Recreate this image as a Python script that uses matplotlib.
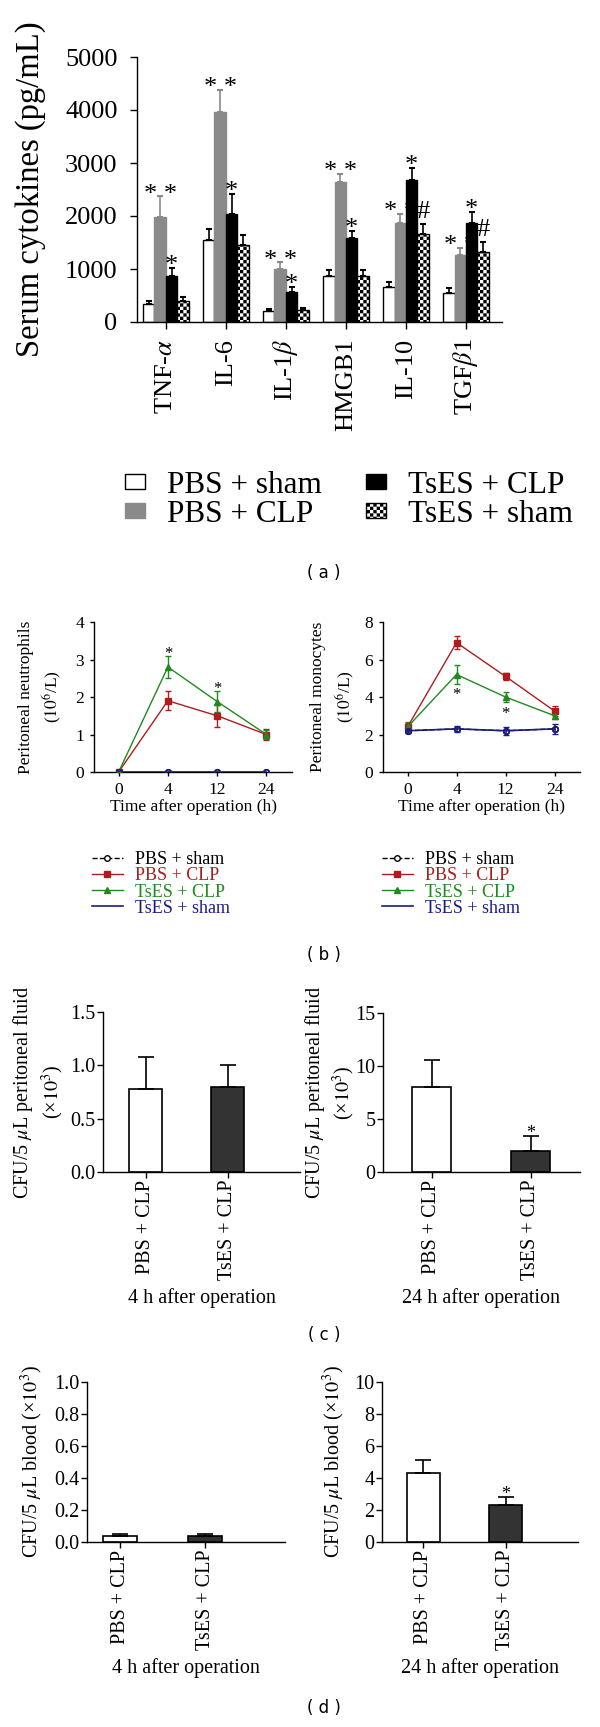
import warnings
import numpy as np
import matplotlib
matplotlib.use("Agg")
import matplotlib.pyplot as plt
import matplotlib.hatch as mhatch
from matplotlib.path import Path

warnings.filterwarnings("ignore")

plt.rcParams['font.family'] = ['Liberation Serif', 'DejaVu Serif']
plt.rcParams['mathtext.fontset'] = 'stix'
plt.rcParams['hatch.linewidth'] = 0.0
plt.rcParams['axes.linewidth'] = 1.0

# ---------------------------------------
# 1. Data
# ---------------------------------------
# (a) serum cytokines, pg/mL
cytokines = ["TNF-$\\alpha$", "IL-6", "IL-1$\\beta$", "HMGB1", "IL-10", "TGF$\\beta$1"]
groups_a = ["PBS + sham", "PBS + CLP", "TsES + CLP", "TsES + sham"]
pbs_sham = [345, 1550, 200, 870, 660, 545]
pbs_sham_err = [60, 200, 50, 113, 100, 88]
pbs_clp = [1980, 3965, 1000, 2650, 1860, 1270]
pbs_clp_err = [390, 420, 125, 145, 176, 120]
tses_clp = [870, 2030, 560, 1580, 2680, 1860]
tses_clp_err = [145, 380, 100, 138, 220, 220]
tses_sham = [390, 1445, 220, 870, 1655, 1330]
tses_sham_err = [75, 195, 40, 113, 188, 176]
sig_pbs_clp = ["* *", "* *", "* *", "* *", "* *", "* *"]
sig_tses_clp = ["*", "*", "*", "*", "*", "*"]
sig_tses_sham = ["", "", "", "", "#", "#"]

# (b) peritoneal cells, 10^6/L
time_labels = ["0", "4", "12", "24"]
groups_b = ["PBS + sham", "PBS + CLP", "TsES + CLP", "TsES + sham"]
neut_pbs_sham = [0, 0, 0, 0]
neut_pbs_clp = [0, 1.9, 1.5, 1.0]
neut_pbs_clp_err = [0, 0.25, 0.3, 0.15]
neut_tses_clp = [0, 2.8, 1.88, 1.0]
neut_tses_clp_err = [0, 0.29, 0.28, 0.12]
neut_tses_sham = [0, 0, 0, 0]
neut_sig = ["", "*", "*", ""]

mono_pbs_sham = [2.2, 2.3, 2.2, 2.3]
mono_pbs_clp = [2.4, 6.9, 5.1, 3.25]
mono_pbs_clp_err = [0.2, 0.36, 0.2, 0.25]
mono_tses_clp = [2.4, 5.2, 4.0, 3.0]
mono_tses_clp_err = [0.25, 0.49, 0.28, 0.15]
mono_tses_sham = [2.2, 2.3, 2.2, 2.3]
mono_tses_sham_err = [0.12, 0.15, 0.2, 0.25]
mono_sig = ["", "*", "*", ""]

# (c), (d) bacterial counts, x10^3
cfu_groups = ["PBS + CLP", "TsES + CLP"]
perit_4h = [0.78, 0.80]
perit_4h_err = [0.30, 0.20]
perit_24h = [8.0, 2.0]
perit_24h_err = [2.6, 1.38]
blood_4h = [0.04, 0.04]
blood_4h_err = [0.01, 0.008]
blood_24h = [4.3, 2.3]
blood_24h_err = [0.8, 0.5]
sig_4h = ["", ""]
sig_24h = ["", "*"]

RED = "#b01c1e"
GREEN = "#1f8a1f"
NAVY = "#1c1c86"
GREY = "#8a8a8a"


# checkerboard fill for the TsES + sham bars (hatch letter "c")
class CheckerHatch(mhatch.HatchPatternBase):
    def __init__(self, hatch, density):
        self.n = 30 if 'c' in hatch else 0
        self.num_vertices = (self.n * self.n // 2) * 5

    def set_vertices_and_codes(self, vertices, codes):
        s = 1.0 / self.n
        k = 0
        for i in range(self.n):
            for j in range(self.n):
                if (i + j) % 2 == 0:
                    x0, y0 = i * s, j * s
                    vertices[k:k + 5] = [(x0, y0), (x0 + s, y0), (x0 + s, y0 + s),
                                         (x0, y0 + s), (x0, y0)]
                    codes[k:k + 5] = [Path.MOVETO, Path.LINETO, Path.LINETO,
                                      Path.LINETO, Path.CLOSEPOLY]
                    k += 5


mhatch._hatch_types.append(CheckerHatch)

W, H = 600, 1727
fig = plt.figure(figsize=(W / 100, H / 100), dpi=100)


def px_axes(x0, y_top, x1, y_bot):
    ax = fig.add_axes([x0 / W, 1 - y_bot / H, (x1 - x0) / W, (y_bot - y_top) / H])
    ax.spines['top'].set_visible(False)
    ax.spines['right'].set_visible(False)
    return ax


# ---------------------------------------
# 2. Panel (a)
# ---------------------------------------
ax = px_axes(137, 57, 502, 322)
x = np.arange(len(cytokines))
w = 0.19
series = [
    (pbs_sham, pbs_sham_err, dict(color="white", edgecolor="black"), "black", None),
    (pbs_clp, pbs_clp_err, dict(color=GREY, edgecolor=GREY), GREY, sig_pbs_clp),
    (tses_clp, tses_clp_err, dict(color="black", edgecolor="black"), "black", sig_tses_clp),
    (tses_sham, tses_sham_err, dict(color="white", edgecolor="black", hatch="c"), "black", sig_tses_sham),
]
for k, (vals, errs, style, ecol, sig) in enumerate(series):
    xs = x + (k - 1.5) * w
    ax.bar(xs, vals, width=w, linewidth=1, label=groups_a[k], **style)
    ax.errorbar(xs, vals, yerr=[np.zeros(len(vals)), errs], fmt="none", ecolor=ecol,
                elinewidth=1.2, capsize=2.5, capthick=1.5)
    if sig is not None:
        for i, mark in enumerate(sig):
            if mark:
                dy = -3 if "*" in mark else 4.5
                ax.annotate(mark, (xs[i], vals[i] + errs[i]), xytext=(0, dy),
                            textcoords="offset points", ha="center", va="baseline",
                            fontsize=19)
ax.set_xlim(-0.48, 5.6)
ax.set_ylim(0, 5000)
ax.set_yticks([0, 1000, 2000, 3000, 4000, 5000])
ax.set_xticks(x)
ax.set_xticklabels(cytokines, rotation=90)
ax.tick_params(direction="out", length=5, width=1, labelsize=19, pad=9)
ax.tick_params(axis="x", pad=7)
ax.set_ylabel("Serum cytokines (pg/mL)", fontsize=23.5)
ax.yaxis.set_label_coords(-0.25, 0.5)
handles, labels = ax.get_legend_handles_labels()
fig.legend(handles, labels, ncol=2, loc="center left", bbox_to_anchor=(125 / W, 1 - 500 / H),
           frameon=False, fontsize=22.5, borderpad=0, borderaxespad=0, handlelength=0.65,
           handleheight=0.35, handletextpad=0.7, columnspacing=1.4, labelspacing=0.0)

# ---------------------------------------
# 3. Panel (b)
# ---------------------------------------
def line_panel(ax, sham, clp, clp_err, tclp, tclp_err, tsham, tsham_err, sig, sig_below):
    xt = np.arange(len(time_labels))
    l0, = ax.plot(xt, sham, color="black", ls="--", marker="o", mfc="white", mec="black",
                  ms=4, lw=1, zorder=2)
    c1 = ax.errorbar(xt, clp, yerr=clp_err, color=RED, marker="s", ms=4, lw=1,
                     capsize=2, zorder=3)
    c2 = ax.errorbar(xt, tclp, yerr=tclp_err, color=GREEN, marker="^", ms=4.5, lw=1,
                     capsize=2, zorder=3)
    if tsham_err is None:
        l3, = ax.plot(xt, tsham, color=NAVY, lw=1.2, zorder=4)
    else:
        c3 = ax.errorbar(xt, tsham, yerr=tsham_err, color=NAVY, lw=1.2, capsize=2, zorder=4)
        l3 = c3[0]
    # sham circles stay visible above the navy line
    ax.plot(xt, sham, ls="none", marker="o", mfc="none", mec=NAVY, mew=1.2, ms=4, zorder=5)
    for i, mark in enumerate(sig):
        if mark:
            if sig_below:
                ax.annotate(mark, (xt[i], tclp[i] - tclp_err[i]), xytext=(0, -11),
                            textcoords="offset points", ha="center", va="baseline", fontsize=12)
            else:
                ax.annotate(mark, (xt[i], tclp[i] + tclp_err[i]), xytext=(0, -1.5),
                            textcoords="offset points", ha="center", va="baseline", fontsize=12)
    ax.set_xlim(-0.5, 3.52)
    ax.set_xticks(xt)
    ax.set_xticklabels(time_labels)
    ax.tick_params(direction="out", length=3, width=1, labelsize=12.5, pad=4)
    ax.set_xlabel("Time after operation (h)", fontsize=12.5, labelpad=1)
    return [l0, c1[0], c2[0], l3]


ax = px_axes(94, 622, 292, 772)
hs = line_panel(ax, neut_pbs_sham, neut_pbs_clp, neut_pbs_clp_err, neut_tses_clp,
                neut_tses_clp_err, neut_tses_sham, None, neut_sig, False)
ax.set_ylim(0, 4)
ax.set_yticks([0, 1, 2, 3, 4])
ax.set_ylabel("Peritoneal neutrophils\n($10^{6}$/L)", fontsize=12.5, linespacing=1.4)
ax.yaxis.set_label_coords(-0.15, 0.5)
fig.legend(hs, groups_b, loc="center left",
           bbox_to_anchor=(92 / W, 1 - 884 / H), frameon=False, fontsize=13, borderpad=0,
           borderaxespad=0, handlelength=1.7, handletextpad=0.7, labelspacing=-0.05,
           labelcolor="linecolor")

ax = px_axes(383, 622, 580, 772)
hs = line_panel(ax, mono_pbs_sham, mono_pbs_clp, mono_pbs_clp_err, mono_tses_clp,
                mono_tses_clp_err, mono_tses_sham, mono_tses_sham_err, mono_sig, True)
ax.set_ylim(0, 8)
ax.set_yticks([0, 2, 4, 6, 8])
ax.set_ylabel("Peritoneal monocytes\n($10^{6}$/L)", fontsize=12.5, linespacing=1.5)
ax.yaxis.set_label_coords(-0.13, 0.5)
fig.legend(hs, groups_b, loc="center left",
           bbox_to_anchor=(382 / W, 1 - 884 / H), frameon=False, fontsize=13, borderpad=0,
           borderaxespad=0, handlelength=1.7, handletextpad=0.7, labelspacing=-0.05,
           labelcolor="linecolor")

# ---------------------------------------
# 4. Panels (c) and (d)
# ---------------------------------------
def cfu_panel(box, vals, errs, sig, ymax, yticks, fmt, xlim, ylabel, label_x, xlabel, lsp):
    ax = px_axes(*box)
    xb = np.arange(len(cfu_groups))
    ax.bar(xb, vals, width=0.4, color=["white", "#333333"], edgecolor="black", linewidth=1.2)
    ax.errorbar(xb, vals, yerr=[np.zeros(len(vals)), errs], fmt="none", ecolor="black",
                elinewidth=1.2, capsize=6, capthick=1.2)
    for i, mark in enumerate(sig):
        if mark:
            ax.annotate(mark, (xb[i], vals[i] + errs[i]), xytext=(0, -1.5),
                        textcoords="offset points", ha="center", va="baseline", fontsize=13)
    ax.set_xlim(*xlim)
    ax.set_ylim(0, ymax)
    ax.set_yticks(yticks)
    ax.set_yticklabels([fmt.format(t) for t in yticks])
    ax.set_xticks(xb)
    ax.set_xticklabels(cfu_groups, rotation=90)
    ax.tick_params(direction="out", length=4, width=1, labelsize=14.5, pad=1.5)
    ax.set_ylabel(ylabel, fontsize=14.5, linespacing=lsp)
    ax.yaxis.set_label_coords(label_x, 0.5)
    ax.set_xlabel(xlabel, fontsize=14.5, labelpad=6)
    return ax


cfu_panel((103, 1012, 300, 1172), perit_4h, perit_4h_err, sig_4h, 1.5, [0, 0.5, 1.0, 1.5],
          "{:.1f}", (-0.52, 1.88), "CFU/5 $\\mu$L peritoneal fluid\n(×$10^{3}$)", -0.19,
          "4 h after operation", 1.25)
cfu_panel((383, 1013, 580, 1172), perit_24h, perit_24h_err, sig_24h, 15, [0, 5, 10, 15],
          "{:.0f}", (-0.49, 1.5), "CFU/5 $\\mu$L peritoneal fluid\n(×$10^{3}$)", -0.13,
          "24 h after operation", 1.25)
cfu_panel((87, 1382, 285, 1542), blood_4h, blood_4h_err, sig_4h, 1.0,
          [0, 0.2, 0.4, 0.6, 0.8, 1.0], "{:.1f}", (-0.39, 1.94),
          "CFU/5 $\\mu$L blood (×$10^{3}$)", -0.21, "4 h after operation", 1.2)
cfu_panel((382, 1382, 578, 1542), blood_24h, blood_24h_err, sig_24h, 10,
          [0, 2, 4, 6, 8, 10], "{:.0f}", (-0.5, 1.88),
          "CFU/5 $\\mu$L blood (×$10^{3}$)", -0.18, "24 h after operation", 1.2)

# ---------------------------------------
# 5. Panel letters
# ---------------------------------------
for letter, yy in [("a", 573), ("b", 955), ("c", 1335), ("d", 1708)]:
    fig.text(324 / W, 1 - yy / H, "( %s )" % letter, ha="center", va="center",
             fontsize=12, family="DejaVu Sans")

fig.savefig("out.png", dpi=100)
